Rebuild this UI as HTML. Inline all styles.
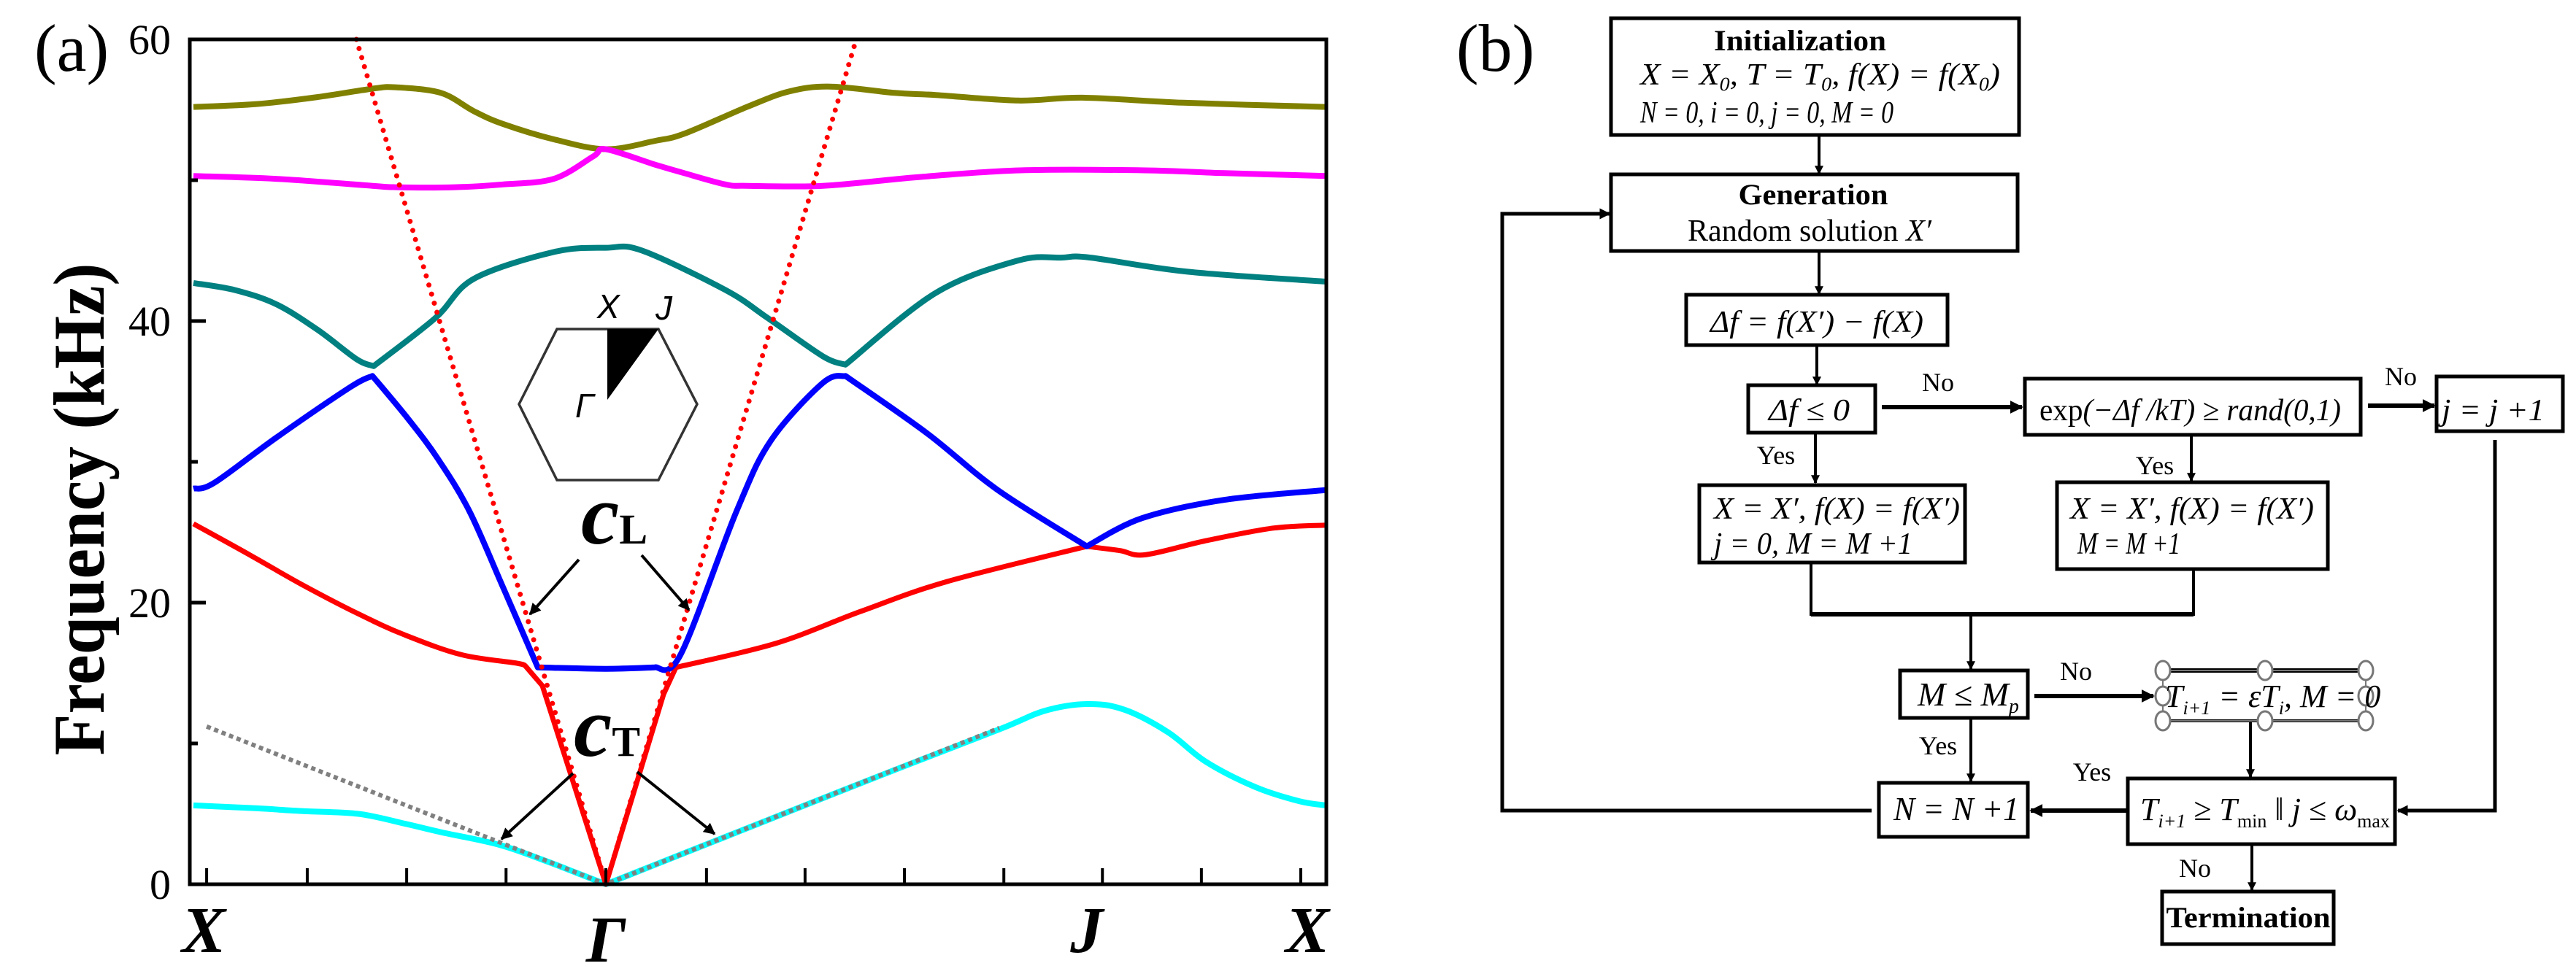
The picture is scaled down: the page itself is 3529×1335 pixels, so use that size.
<!DOCTYPE html>
<html><head><meta charset="utf-8"><style>
html,body{margin:0;padding:0;background:#fff;}
svg{display:block;}
</style></head><body>
<svg id="fig" xmlns="http://www.w3.org/2000/svg" width="3529" height="1335" viewBox="0 0 3529 1335" font-family="'Liberation Serif', serif">
<defs>
<marker id="ah" viewBox="0 0 10 10" refX="9" refY="5" markerWidth="4" markerHeight="4" orient="auto" markerUnits="strokeWidth"><path d="M0,0 L10,5 L0,10 z" fill="#000"/></marker>
<marker id="ah2" viewBox="0 0 10 10" refX="9" refY="5" markerWidth="3" markerHeight="3" orient="auto" markerUnits="strokeWidth"><path d="M0,0 L10,5 L0,10 z" fill="#000"/></marker>
</defs>
<rect x="0" y="0" width="3529" height="1335" fill="#fff"/>

<!-- Panel (a) -->
<g id="panelA">
<text x="47" y="97" font-size="92">(a)</text>
<text transform="translate(142,698) rotate(-90)" text-anchor="middle" font-size="100" font-weight="bold" textLength="675" lengthAdjust="spacingAndGlyphs">Frequency (kHz)</text>
<g id="plotA"></g>
<g id="insetA">
<polygon points="711,554 763,451 902,451 955,554 902,658 763,658" fill="none" stroke="#333" stroke-width="3.5"/>
<polygon points="832,451 902,451 832,548" fill="#000"/>
<text x="818" y="436" font-size="46" font-style="italic" font-family="'Liberation Sans', sans-serif">X</text>
<text x="898" y="438" font-size="46" font-style="italic" font-family="'Liberation Sans', sans-serif">J</text>
<text x="788" y="572" font-size="46" font-style="italic" font-family="'Liberation Sans', sans-serif">Γ</text>
</g>
<g>
<text x="796" y="745" font-size="118" font-weight="bold" font-style="italic">c<tspan font-size="58" font-style="normal" dx="0">L</tspan></text>
<line x1="793" y1="767" x2="726" y2="842" stroke="#000" stroke-width="4" marker-end="url(#ah)"/>
<line x1="879" y1="761" x2="944" y2="836" stroke="#000" stroke-width="4" marker-end="url(#ah)"/>
</g>
<g>
<text x="786" y="1036" font-size="118" font-weight="bold" font-style="italic">c<tspan font-size="58" font-style="normal">T</tspan></text>
<line x1="785" y1="1060" x2="687" y2="1150" stroke="#000" stroke-width="4" marker-end="url(#ah)"/>
<line x1="873" y1="1058" x2="979" y2="1143" stroke="#000" stroke-width="4" marker-end="url(#ah)"/>
</g>
</g>

<!-- Panel (b) flowchart -->
<g id="panelB" font-style="italic" font-size="42">
<text x="1995" y="97" font-size="92" font-style="normal">(b)</text>
<g fill="none" stroke="#000" stroke-width="5">
<rect x="2207" y="25" width="559" height="160"/>
<rect x="2207" y="239" width="557" height="105"/>
<rect x="2310" y="404" width="358" height="69"/>
<rect x="2395" y="528" width="174" height="65"/>
<rect x="2774" y="519" width="460" height="77"/>
<rect x="3338" y="516" width="173" height="75"/>
<rect x="2328" y="665" width="364" height="106"/>
<rect x="2818" y="661" width="371" height="119"/>
<rect x="2603" y="919" width="175" height="65"/>
<rect x="2574" y="1073" width="204" height="74"/>
<rect x="2915" y="1067" width="366" height="90"/>
<rect x="2962" y="1222" width="235" height="72"/>
</g>
<g>
<line x1="2963" y1="919" x2="3241" y2="919" stroke="#000" stroke-width="6"/>
<line x1="2963" y1="988" x2="3241" y2="988" stroke="#000" stroke-width="4"/>
<rect x="2963" y="919" width="278" height="69" fill="none" stroke="#777" stroke-width="2"/>
<g fill="#fff" stroke="#777" stroke-width="3">
<ellipse cx="2963" cy="919" rx="10" ry="13"/><ellipse cx="3103" cy="919" rx="10" ry="13"/><ellipse cx="3241" cy="919" rx="10" ry="13"/>
<ellipse cx="2963" cy="954" rx="10" ry="13"/><ellipse cx="3241" cy="954" rx="10" ry="13"/>
<ellipse cx="2963" cy="988" rx="10" ry="13"/><ellipse cx="3103" cy="988" rx="10" ry="13"/><ellipse cx="3241" cy="988" rx="10" ry="13"/>
</g>
</g>
<g stroke="#000" stroke-width="4" fill="none">
<line x1="2492" y1="185" x2="2492" y2="238" marker-end="url(#ah2)"/>
<polyline points="2564,1111 2058,1111 2058,293 2205,293" stroke-width="5" marker-end="url(#ah2)"/>
<line x1="2492" y1="344" x2="2492" y2="403" marker-end="url(#ah2)"/>
<line x1="2489" y1="473" x2="2489" y2="527" marker-end="url(#ah2)"/>
<line x1="2578" y1="558" x2="2770" y2="558" stroke-width="6" marker-end="url(#ah2)"/>
<line x1="3244" y1="556" x2="3335" y2="556" stroke-width="6" marker-end="url(#ah2)"/>
<line x1="2487" y1="593" x2="2487" y2="662" marker-end="url(#ah2)"/>
<line x1="3002" y1="596" x2="3002" y2="659" marker-end="url(#ah2)"/>
<polyline points="2481,771 2481,842 3005,842 3005,780"/>
<line x1="2481" y1="842" x2="3005" y2="842" stroke-width="6"/>
<line x1="2700" y1="842" x2="2700" y2="917" marker-end="url(#ah2)"/>
<line x1="2787" y1="954" x2="2950" y2="954" stroke-width="6" marker-end="url(#ah2)"/>
<line x1="2700" y1="984" x2="2700" y2="1071" marker-end="url(#ah2)"/>
<line x1="3083" y1="990" x2="3083" y2="1065" marker-end="url(#ah2)"/>
<line x1="2915" y1="1111" x2="2782" y2="1111" stroke-width="6" marker-end="url(#ah2)"/>
<polyline points="3418,603 3418,1111 3285,1111" stroke-width="5" marker-end="url(#ah2)"/>
<line x1="3085" y1="1157" x2="3085" y2="1220" marker-end="url(#ah2)"/>
</g>
<text x="2466" y="69" text-anchor="middle" font-weight="bold" font-style="normal" font-size="40" textLength="236" lengthAdjust="spacingAndGlyphs">Initialization</text>
<text x="2247" y="116" textLength="493" lengthAdjust="spacingAndGlyphs">X = X<tspan font-size="26" dy="8">0</tspan><tspan dy="-8">,  T = T</tspan><tspan font-size="26" dy="8">0</tspan><tspan dy="-8">,  f(X) = f(X</tspan><tspan font-size="26" dy="8">0</tspan><tspan dy="-8">)</tspan></text>
<text x="2247" y="168" textLength="347" lengthAdjust="spacingAndGlyphs">N = 0, i = 0, j = 0, M = 0</text>
<text x="2484" y="280" text-anchor="middle" font-weight="bold" font-style="normal" font-size="40" textLength="205" lengthAdjust="spacingAndGlyphs">Generation</text>
<text x="2479" y="330" text-anchor="middle" font-style="normal" font-size="42" textLength="334" lengthAdjust="spacingAndGlyphs">Random solution <tspan font-style="italic">X′</tspan></text>
<text x="2343" y="455" textLength="292" lengthAdjust="spacingAndGlyphs">Δf = f(X′) − f(X)</text>
<text x="2423" y="576" textLength="111" lengthAdjust="spacingAndGlyphs">Δf ≤ 0</text>
<text x="2794" y="576" textLength="413" lengthAdjust="spacingAndGlyphs"><tspan font-style="normal">exp</tspan>(−Δf /kT) ≥ rand(0,1)</text>
<text x="3345" y="576" textLength="141" lengthAdjust="spacingAndGlyphs">j = j +1</text>
<text x="2348" y="711" textLength="337" lengthAdjust="spacingAndGlyphs">X = X′,  f(X) = f(X′)</text>
<text x="2348" y="759" textLength="272" lengthAdjust="spacingAndGlyphs">j = 0,     M = M +1</text>
<text x="2836" y="711" textLength="334" lengthAdjust="spacingAndGlyphs">X = X′,  f(X) = f(X′)</text>
<text x="2846" y="759" textLength="141" lengthAdjust="spacingAndGlyphs">M = M +1</text>
<text x="2627" y="967" font-size="46">M ≤ M<tspan font-size="28" dy="10">p</tspan></text>
<text x="2966" y="969" font-size="44">T<tspan font-size="26" dy="10">i+1</tspan><tspan dy="-10"> = εT</tspan><tspan font-size="26" dy="10">i</tspan><tspan dy="-10">, M = 0</tspan></text>
<text x="2594" y="1124" font-size="46" textLength="172" lengthAdjust="spacingAndGlyphs">N = N +1</text>
<text x="2932" y="1124" font-size="44">T<tspan font-size="26" dy="10">i+1</tspan><tspan dy="-10"> ≥ T</tspan><tspan font-size="26" dy="10" font-style="normal">min</tspan><tspan dy="-10"> ‖ j ≤ ω</tspan><tspan font-size="26" dy="10" font-style="normal">max</tspan></text>
<text x="3080" y="1271" text-anchor="middle" font-weight="bold" font-style="normal" font-size="40" textLength="225" lengthAdjust="spacingAndGlyphs">Termination</text>
<g font-style="normal" font-size="36">
<text x="2655" y="536" text-anchor="middle">No</text>
<text x="3289" y="528" text-anchor="middle">No</text>
<text x="2433" y="636" text-anchor="middle">Yes</text>
<text x="2952" y="650" text-anchor="middle">Yes</text>
<text x="2844" y="932" text-anchor="middle">No</text>
<text x="2655" y="1034" text-anchor="middle">Yes</text>
<text x="2866" y="1070" text-anchor="middle">Yes</text>
<text x="3007" y="1202" text-anchor="middle">No</text>
</g>
</g>
</svg>
<script>
// path coordinate: X=0, Gamma=1, J=2.166, X=2.747 ; values in kHz
const symPos = [0, 1, 2.166, 2.747];
const symLabels = ["X", "Γ", "J", "X"];
const yTicks = [0, 20, 40, 60];
const yMinorTicks = [10, 30, 50];
const xTickPos = [0.032, 0.276, 0.517, 0.758, 1.0, 1.244, 1.483, 1.724, 1.965, 2.204, 2.444, 2.685];

const oliveK = [0, 0.15, 0.3, 0.434, 0.49, 0.6, 0.68, 0.75, 0.874, 1.0, 1.12, 1.19, 1.342, 1.444, 1.545, 1.7, 1.8, 2.0, 2.156, 2.4, 2.747];
const oliveV = [55.2, 55.4, 55.9, 56.5, 56.6, 56.2, 54.9, 54.0, 52.9, 52.2, 52.8, 53.3, 55.2, 56.3, 56.65, 56.2, 56.05, 55.66, 55.86, 55.5, 55.2];
const magentaK = [0, 0.2, 0.434, 0.49, 0.634, 0.75, 0.874, 0.97, 1.0, 1.12, 1.19, 1.29, 1.342, 1.526, 1.75, 2.004, 2.308, 2.5, 2.747];
const magentaV = [50.3, 50.1, 49.6, 49.5, 49.5, 49.7, 50.1, 51.7, 52.2, 51.1, 50.5, 49.7, 49.6, 49.6, 50.2, 50.7, 50.7, 50.5, 50.3];
const tealK = [0, 0.1, 0.2, 0.3, 0.395, 0.437, 0.586, 0.68, 0.874, 1.0, 1.088, 1.29, 1.393, 1.526, 1.581, 1.8, 2.0, 2.104, 2.175, 2.41, 2.747];
const tealV = [42.7, 42.2, 41.2, 39.4, 37.3, 36.8, 40.2, 43.0, 44.9, 45.2, 45.0, 42.2, 40.2, 37.5, 36.9, 42.0, 44.3, 44.5, 44.5, 43.5, 42.8];
const blueK = [0, 0.05, 0.2, 0.38, 0.434, 0.522, 0.593, 0.669, 0.752, 0.835, 1.0, 1.119, 1.181, 1.317, 1.4, 1.526, 1.581, 1.78, 1.95, 2.166, 2.3, 2.5, 2.747];
const blueV = [28.1, 28.5, 31.7, 35.3, 36.1, 33.0, 30.2, 26.5, 21.0, 15.4, 15.3, 15.4, 16.3, 26.5, 31.5, 35.6, 36.1, 32.0, 28.0, 24.0, 26.0, 27.3, 28.0];
const redK = [0, 0.136, 0.262, 0.4, 0.513, 0.65, 0.784, 0.805, 0.846, 1.0, 1.14, 1.17, 1.411, 1.62, 1.828, 2.166, 2.246, 2.308, 2.455, 2.62, 2.747];
const redV = [25.6, 23.4, 21.3, 19.2, 17.7, 16.3, 15.7, 15.5, 14.1, 0, 13.5, 15.4, 17.1, 19.4, 21.5, 24.0, 23.7, 23.4, 24.4, 25.3, 25.5];
const cyanK = [0, 0.15, 0.262, 0.4, 0.513, 0.6, 0.742, 0.85, 0.93, 1.0, 1.301, 1.655, 1.954, 2.062, 2.166, 2.257, 2.363, 2.455, 2.575, 2.681, 2.747];
const cyanV = [5.6, 5.4, 5.2, 5.0, 4.3, 3.7, 2.8, 1.7, 0.8, 0, 3.5, 7.6, 11.0, 12.3, 12.8, 12.4, 10.8, 8.7, 6.9, 5.9, 5.6];
const cLK = [0.395, 1.0, 1.607];
const cLV = [60, 0, 60];
const cTK = [0.032, 1.0, 1.954];
const cTV = [11.2, 0, 11.1];
// indices of cusp points (non-smooth joins) per band
const tealKinks = [5, 14];
const blueKinks = [4, 9, 11, 16, 19];
const redKinks = [7, 8, 9, 10, 11, 15];
const cyanKinks = [9];

const NS = "http://www.w3.org/2000/svg";
const X0 = 265, XS = 565, YB = 1212, YS = 19.3;
function xs(k) { return X0 + k * XS; }
function ys(v) { return YB - v * YS; }
const plot = document.getElementById('plotA');
function mk(tag, attrs, parent) {
  const e = document.createElementNS(NS, tag);
  for (const a in attrs) e.setAttribute(a, attrs[a]);
  (parent || plot).appendChild(e);
  return e;
}
function linePath(ks, vs) {
  return ks.map((k, i) => (i ? 'L' : 'M') + xs(k).toFixed(1) + ',' + ys(vs[i]).toFixed(1)).join(' ');
}
function smoothPath(ks, vs, kinks) {
  kinks = kinks || [];
  const p = ks.map((k, i) => [xs(k), ys(vs[i])]);
  let d = 'M' + p[0][0] + ',' + p[0][1];
  for (let i = 0; i < p.length - 1; i++) {
    const p1 = p[i], p2 = p[i + 1];
    const p0 = (i === 0 || kinks.includes(i)) ? p1 : p[i - 1];
    const p3 = (i + 2 >= p.length || kinks.includes(i + 1)) ? p2 : p[i + 2];
    const c1 = [p1[0] + (p2[0] - p0[0]) / 6, p1[1] + (p2[1] - p0[1]) / 6];
    const c2 = [p2[0] - (p3[0] - p1[0]) / 6, p2[1] - (p3[1] - p1[1]) / 6];
    d += ' C' + c1[0].toFixed(1) + ',' + c1[1].toFixed(1) + ' ' + c2[0].toFixed(1) + ',' + c2[1].toFixed(1) + ' ' + p2[0].toFixed(1) + ',' + p2[1].toFixed(1);
  }
  return d;
}
let e;
e = mk('path', {d: smoothPath(oliveK, oliveV), fill: 'none', stroke: '#808000', 'stroke-width': 8, 'stroke-linejoin': 'round'});


e = mk('path', {d: smoothPath(magentaK, magentaV), fill: 'none', stroke: '#ff00ff', 'stroke-width': 8, 'stroke-linejoin': 'round'});


e = mk('path', {d: smoothPath(tealK, tealV, tealKinks), fill: 'none', stroke: '#008080', 'stroke-width': 8, 'stroke-linejoin': 'round'});


e = mk('path', {d: smoothPath(cyanK, cyanV, cyanKinks), fill: 'none', stroke: '#00ffff', 'stroke-width': 8, 'stroke-linejoin': 'round'});


e = mk('path', {d: linePath(cTK, cTV), fill: 'none', stroke: '#808080', 'stroke-width': 6, 'stroke-dasharray': '6 5'});


e = mk('path', {d: smoothPath(redK, redV, redKinks), fill: 'none', stroke: '#ff0000', 'stroke-width': 7, 'stroke-linejoin': 'round'});


e = mk('path', {d: smoothPath(blueK, blueV, blueKinks), fill: 'none', stroke: '#0000ff', 'stroke-width': 8, 'stroke-linejoin': 'round'});


e = mk('path', {d: linePath(cLK, cLV), fill: 'none', stroke: '#ff0000', 'stroke-width': 7, 'stroke-dasharray': '0 13', 'stroke-linecap': 'round'});


e = mk('rect', {x: 260, y: 54, width: 1557, height: 1158, fill: 'none', stroke: '#000', 'stroke-width': 5});


yTicks.forEach(v => {
  const t = mk('line', {x1: 260, x2: 282, y1: ys(v), y2: ys(v), stroke: '#000', 'stroke-width': 5});
  
  
  const l = mk('text', {x: 234, y: ys(v) + 20, 'text-anchor': 'end', 'font-size': 58});
  l.textContent = v;
  
  
});
yMinorTicks.forEach(v => {
  const t = mk('line', {x1: 260, x2: 271, y1: ys(v), y2: ys(v), stroke: '#000', 'stroke-width': 5});
  
  
});
xTickPos.forEach(k => {
  const t = mk('line', {x1: xs(k), x2: xs(k), y1: 1212, y2: 1190, stroke: '#000', 'stroke-width': 4});
  
  
});
symPos.forEach((k, i) => {
  let x = xs(k);
  if (i === 0) x += 14;
  if (i === symPos.length - 1) x -= 26;
  const l = mk('text', {x: x, y: i === 1 ? 1318 : 1305, 'text-anchor': 'middle', 'font-size': 90, 'font-weight': 'bold', 'font-style': 'italic'});
  l.textContent = symLabels[i];
  
  
});
</script>
</body></html>
